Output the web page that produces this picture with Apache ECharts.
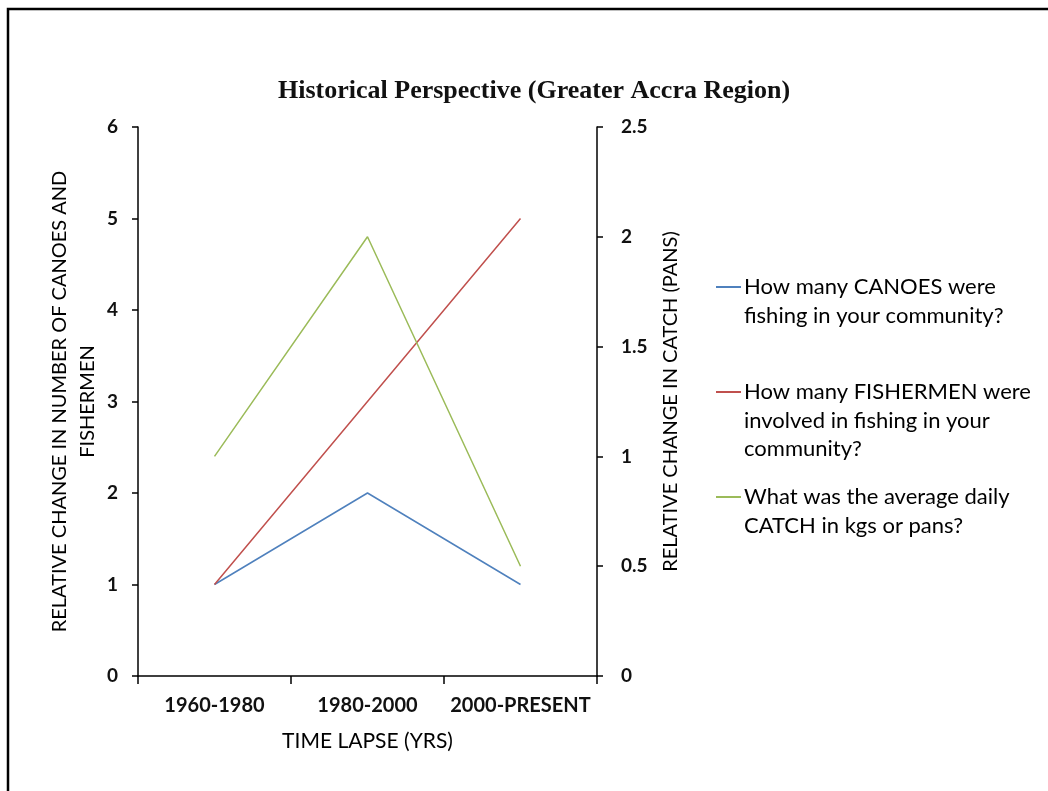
<!DOCTYPE html>
<html>
<head>
<meta charset="utf-8">
<script src="https://cdn.jsdelivr.net/npm/echarts@6/dist/echarts.min.js"></script>
<style>
html,body{margin:0;padding:0;background:#fff;}
#chart{width:1048px;height:791px;}
</style>
</head>
<body>
<div id="chart"></div>
<script>
const categories = ['1960-1980', '1980-2000', '2000-PRESENT'];
const canoes = [1, 2, 1];
const fishermen = [1, 3, 5];
const catchPans = [1, 2, 0.5];
const leftTicks = [0, 6, 1];
const rightTicks = [0, 2.5, 0.5];
const seriesNames = [
  'How many CANOES were\nfishing in your community?',
  'How many FISHERMEN were\ninvolved in fishing in your\ncommunity?',
  'What was the average daily\nCATCH in kgs or pans?'
];
const colors = ['#4F81BD', '#C0504D', '#9BBB59'];

const FONT = 'Lato';
const chart = echarts.init(document.getElementById('chart'), null, {renderer: 'canvas'});

const legendCenters = [287, 392, 497];
const LG_FS = 22;
const legends = seriesNames.map((n, i) => ({
  data: [n],
  left: 716,
  top: legendCenters[i] - 11,
  padding: 0,
  orient: 'vertical',
  itemWidth: 25,
  itemHeight: 2,
  itemGap: 0,
  icon: 'rect',
  selectedMode: false,
  formatter: (name) => name.split('\n')[0],
  textStyle: {fontFamily: FONT, fontSize: LG_FS, color: '#000', padding: [0,0,0,-2], height: 22, lineHeight: 22}
}));

const extraLines = [];
seriesNames.forEach((n, i) => {
  const parts = n.split('\n');
  for (let k = 1; k < parts.length; k++) {
    extraLines.push({
      type: 'text', x: 744, y: legendCenters[i] + k * 28.5,
      style: {text: parts[k], font: LG_FS + 'px ' + FONT, fill: '#000', verticalAlign: 'middle', align: 'left'}
    });
  }
});

const axisLabelStyle = {fontFamily: FONT, fontSize: 19, fontWeight: 'bold', color: '#111'};

chart.setOption({
  animation: false,
  backgroundColor: '#fff',
  color: colors,
  title: {
    text: 'Historical Perspective (Greater Accra Region)',
    left: 273, top: 73,
    textStyle: {fontFamily: 'Liberation Serif', fontSize: 26, fontWeight: 'bold', color: '#111'}
  },
  legend: legends,
  grid: {left: 138, right: 451, top: 127, bottom: 115},
  xAxis: {
    type: 'category',
    data: categories,
    boundaryGap: true,
    name: 'TIME LAPSE (YRS)',
    nameLocation: 'middle',
    nameGap: 55,
    nameTextStyle: {fontFamily: FONT, fontSize: 21, color: '#000'},
    axisLine: {lineStyle: {color: '#000', width: 1.5}},
    axisTick: {show: true, length: 8, lineStyle: {color: '#000', width: 1.5}},
    axisLabel: Object.assign({margin: 20, interval: 0}, axisLabelStyle, {fontSize: 20})
  },
  yAxis: [
    {
      type: 'value', position: 'left',
      min: leftTicks[0], max: leftTicks[1], interval: leftTicks[2],
      name: 'RELATIVE CHANGE IN NUMBER OF CANOES AND\nFISHERMEN',
      nameLocation: 'middle', nameRotate: 90, nameGap: 36,
      nameTextStyle: {fontFamily: FONT, fontSize: 20, color: '#000', lineHeight: 28},
      axisLine: {show: true, lineStyle: {color: '#000', width: 1.5}},
      axisTick: {show: true, length: 6, lineStyle: {color: '#000', width: 1.5}},
      splitLine: {show: false},
      axisLabel: Object.assign({margin: 20}, axisLabelStyle)
    },
    {
      type: 'value', position: 'right',
      min: rightTicks[0], max: rightTicks[1], interval: rightTicks[2],
      name: 'RELATIVE CHANGE IN CATCH (PANS)',
      nameLocation: 'middle', nameRotate: 90, nameGap: 64,
      nameTextStyle: {fontFamily: FONT, fontSize: 20, color: '#000'},
      axisLine: {show: true, lineStyle: {color: '#000', width: 1.5}},
      axisTick: {show: true, length: 6, lineStyle: {color: '#000', width: 1.5}},
      splitLine: {show: false},
      axisLabel: Object.assign({margin: 24}, axisLabelStyle)
    }
  ],
  series: [
    {name: seriesNames[0], type: 'line', yAxisIndex: 0, data: canoes, symbol: 'none', lineStyle: {width: 1.5}},
    {name: seriesNames[1], type: 'line', yAxisIndex: 0, data: fishermen, symbol: 'none', lineStyle: {width: 1.5}},
    {name: seriesNames[2], type: 'line', yAxisIndex: 1, data: catchPans, symbol: 'none', lineStyle: {width: 1.5}}
  ],
  graphic: [
    {type: 'polyline', silent: true, shape: {points: [[8, 800], [8, 9], [1060, 9]]},
     style: {stroke: '#000', lineWidth: 2.5, fill: null}}
  ].concat(extraLines)
});
</script>
</body>
</html>
